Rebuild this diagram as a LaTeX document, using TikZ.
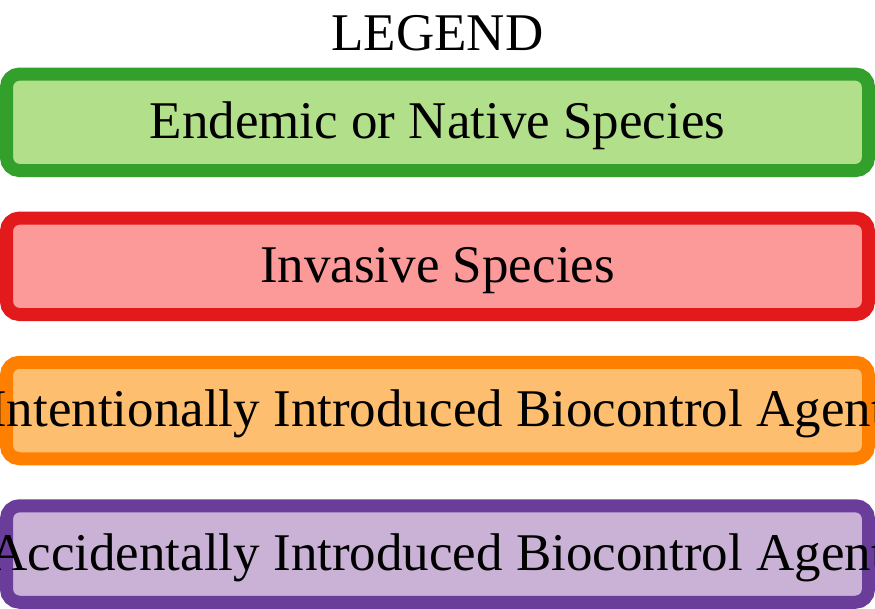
\documentclass[tikz,border=0pt]{standalone}
\usepackage{fontspec}
\setmainfont{Liberation Serif}
\usepackage{tikz}
\usetikzlibrary{positioning}
\definecolor{LGGreen}{HTML}{33A02C}
\definecolor{LGGreenFill}{HTML}{B2DF8A}
\definecolor{LGRed}{HTML}{E31A1C}
\definecolor{LGRedFill}{HTML}{FB9A99}
\definecolor{LGOrange}{HTML}{FF7F00}
\definecolor{LGOrangeFill}{HTML}{FDBF6F}
\definecolor{LGPurple}{HTML}{6A3D9A}
\definecolor{LGPurpleFill}{HTML}{CAB2D6}
\tikzset{
  legbox/.style={draw=LGGreen,fill=LGGreenFill,line width=13pt,rounded corners=13pt,
                 minimum width=862pt,minimum height=96.5pt,inner sep=0pt},
  legboxred/.style={legbox,draw=LGRed,fill=LGRedFill},
  legboxorange/.style={legbox,draw=LGOrange,fill=LGOrangeFill},
  legboxpurple/.style={legbox,draw=LGPurple,fill=LGPurpleFill},
  legtext/.style={text=black,font=\fontsize{53}{60}\selectfont,inner sep=0pt,anchor=base},
}

\begin{document}
\begin{tikzpicture}[x=1pt,y=-1pt]
    \clip (0,0) rectangle (875,608);

    % ------------------------------------------------------------------ title
    \node[legtext] (legend) at (437.5,50.7) {LEGEND};

    % ------------------------------------------------------------------ entries
    \node[legbox]       (native)      at (437.5,122.3) {};
    \node[legboxred]    (invasive)    at (437.5,266.3) {};
    \node[legboxorange] (intentional) at (437.5,410.5) {};
    \node[legboxpurple] (accidental)  at (437.5,554.0) {};

    \node[legtext] (nativetext)      at (437.5,138.3) {Endemic or Native Species};
    \node[legtext] (invasivetext)    at (437.5,282.3) {Invasive Species};
    \node[legtext] (intentionaltext) at (437.5,426.5) {Intentionally Introduced Biocontrol Agent};
    \node[legtext] (accidentaltext)  at (437.5,570.0) {Accidentally Introduced Biocontrol Agent};
\end{tikzpicture}
\end{document}
